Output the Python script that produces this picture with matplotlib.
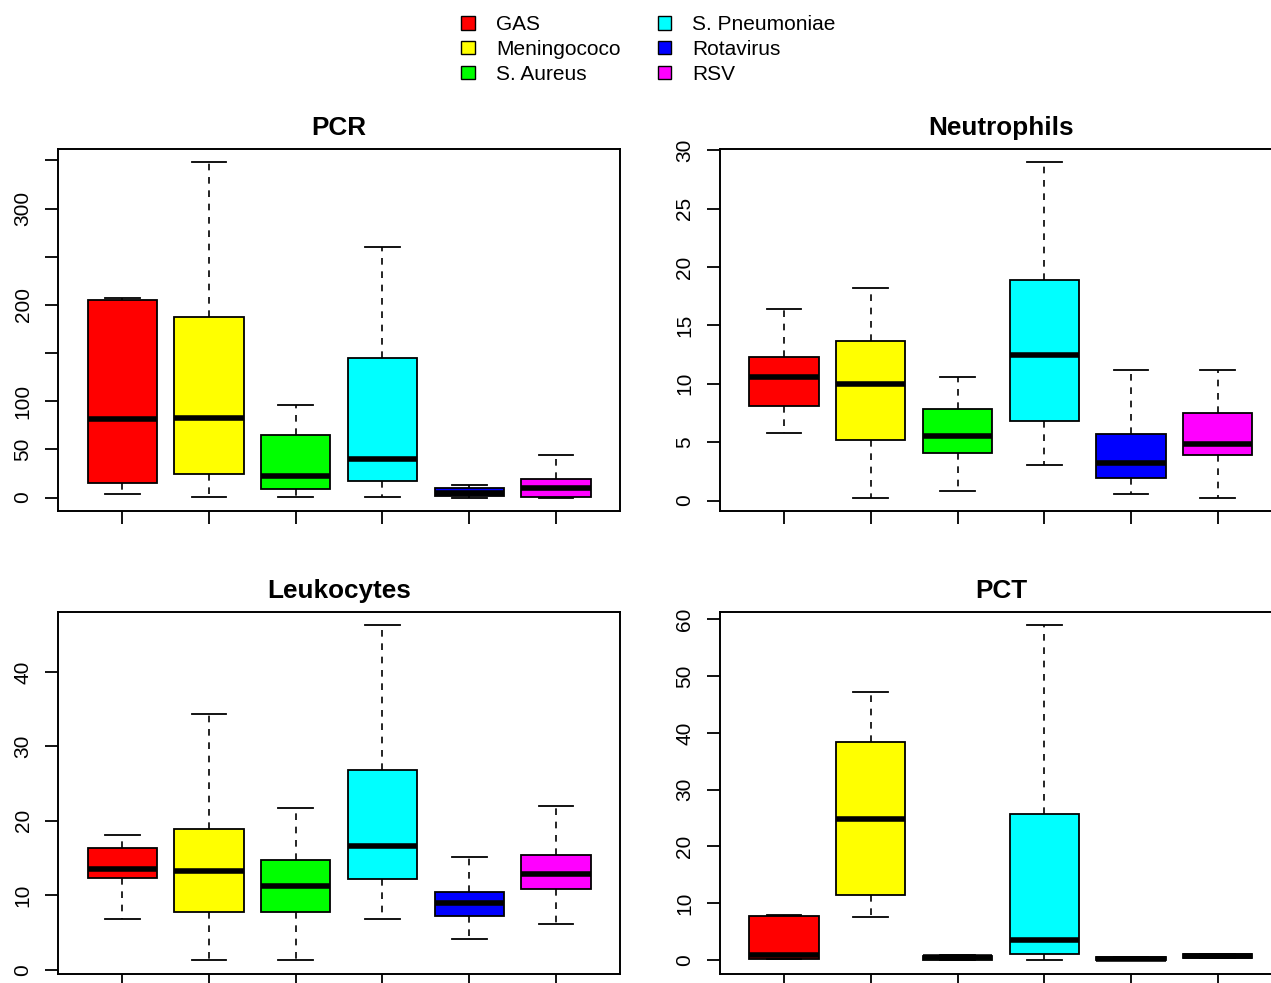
import matplotlib
matplotlib.use('Agg')
import matplotlib.pyplot as plt
from matplotlib.patches import Patch

plt.rcParams['font.family'] = ['Liberation Sans', 'DejaVu Sans']

groups = ['GAS', 'Meningococo', 'S. Aureus', 'S. Pneumoniae', 'Rotavirus', 'RSV']
colors = ['#ff0000', '#ffff00', '#00ff00', '#00ffff', '#0000ff', '#ff00ff']

# box summaries: lower whisker, Q1, median, Q3, upper whisker
pcr_low = [4, 0.6, 0.5, 0.5, 0, 0]
pcr_q1 = [14.8, 24, 9, 17, 1.7, 1]
pcr_med = [82, 83, 22, 40, 5, 10]
pcr_q3 = [205.6, 187, 65, 145, 9.6, 19]
pcr_high = [207, 348, 96, 260, 13.4, 44]

neu_low = [5.8, 0.25, 0.8, 3.0, 0.6, 0.25]
neu_q1 = [8.05, 5.2, 4.1, 6.8, 1.9, 3.9]
neu_med = [10.6, 10.0, 5.5, 12.5, 3.2, 4.8]
neu_q3 = [12.3, 13.7, 7.8, 18.9, 5.7, 7.5]
neu_high = [16.4, 18.2, 10.6, 28.95, 11.2, 11.2]

leu_low = [6.8, 1.3, 1.3, 6.8, 4.1, 6.2]
leu_q1 = [12.3, 7.8, 7.8, 12.2, 7.2, 10.8]
leu_med = [13.5, 13.3, 11.2, 16.6, 9.0, 12.9]
leu_q3 = [16.3, 18.9, 14.7, 26.8, 10.4, 15.4]
leu_high = [18.1, 34.4, 21.7, 46.3, 15.1, 22.0]

pct_low = [0.2, 7.5, 0.05, 0.1, 0.0, 0.3]
pct_q1 = [0.23, 11.5, 0.1, 1.0, 0.02, 0.45]
pct_med = [0.9, 24.9, 0.5, 3.5, 0.2, 0.7]
pct_q3 = [7.7, 38.4, 0.8, 25.8, 0.5, 1.0]
pct_high = [7.9, 47.2, 0.9, 59.0, 0.6, 1.1]

pcr_ticks = [0, 50, 100, 150, 200, 250, 300, 350]
pcr_labels = ['0', '50', '100', '', '200', '', '300', '']
neu_ticks = [0, 5, 10, 15, 20, 25, 30]
leu_ticks = [0, 10, 20, 30, 40]
pct_ticks = [0, 10, 20, 30, 40, 50, 60]


def panel(ax, title, low, q1, med, q3, high, ticks, labels):
    stats = [dict(whislo=a, q1=b, med=c, q3=d, whishi=e)
             for a, b, c, d, e in zip(low, q1, med, q3, high)]
    bp = ax.bxp(stats, positions=range(1, 7), widths=0.8, capwidths=0.4,
                patch_artist=True, showfliers=False,
                boxprops=dict(edgecolor='black', linewidth=1.3),
                medianprops=dict(color='black', linewidth=4, solid_capstyle='butt'),
                whiskerprops=dict(color='black', linewidth=1.2, linestyle=(0, (4, 4))),
                capprops=dict(color='black', linewidth=1.3))
    for patch, c in zip(bp['boxes'], colors):
        patch.set_facecolor(c)
    rng = max(high) - min(low)
    ax.set_ylim(min(low) - 0.04 * rng, max(high) + 0.04 * rng)
    ax.set_xlim(0.26, 6.74)
    ax.set_xticks(range(1, 7))
    ax.set_xticklabels([])
    ax.set_yticks(ticks)
    ax.set_yticklabels(labels, rotation=90, va='center')
    ax.tick_params(length=9.5, width=1.3, labelsize=15, pad=9)
    for s in ax.spines.values():
        s.set_linewidth(1.4)
    ax.set_title(title, fontsize=18.8, fontweight='bold', pad=10)


fig = plt.figure(figsize=(12.71, 9.83), dpi=100)
W, H = 1271, 983
w, h = 561.7 / W, 362 / H
ax1 = fig.add_axes([58.3 / W, 1 - 511 / H, w, h])
ax2 = fig.add_axes([720 / W, 1 - 511 / H, w, h])
ax3 = fig.add_axes([58.3 / W, 1 - 973.5 / H, w, h])
ax4 = fig.add_axes([720 / W, 1 - 973.5 / H, w, h])

panel(ax1, 'PCR', pcr_low, pcr_q1, pcr_med, pcr_q3, pcr_high, pcr_ticks, pcr_labels)
panel(ax2, 'Neutrophils', neu_low, neu_q1, neu_med, neu_q3, neu_high,
      neu_ticks, [str(t) for t in neu_ticks])
panel(ax3, 'Leukocytes', leu_low, leu_q1, leu_med, leu_q3, leu_high,
      leu_ticks, [str(t) for t in leu_ticks])
panel(ax4, 'PCT', pct_low, pct_q1, pct_med, pct_q3, pct_high,
      pct_ticks, [str(t) for t in pct_ticks])

handles = [Patch(facecolor=c, edgecolor='black', linewidth=1) for c in colors]
fig.legend(handles, groups, ncol=2, frameon=False, loc='upper left',
           bbox_to_anchor=(451 / W, 1 - 5 / H), fontsize=15,
           handlelength=0.65, handleheight=0.6, handletextpad=1.0,
           columnspacing=1.8, labelspacing=0.27, borderpad=0)

plt.savefig('out.png', dpi=100)
plt.close()
